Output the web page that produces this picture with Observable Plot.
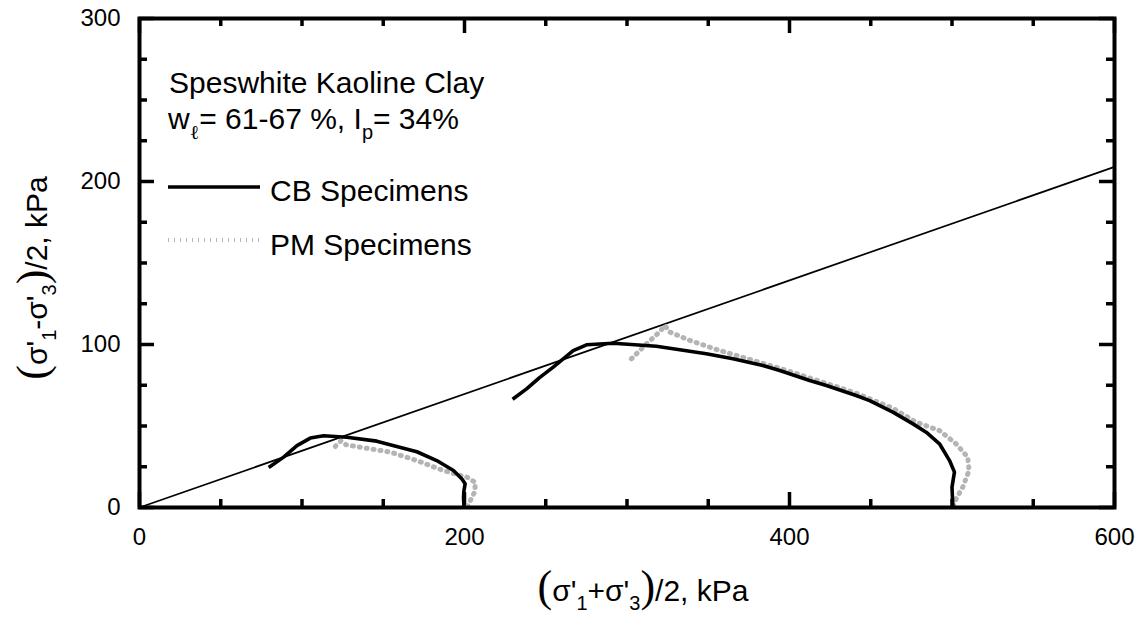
<!DOCTYPE html>
<html>
<head>
<meta charset="utf-8">
<script src="https://cdn.jsdelivr.net/npm/d3@7"></script>
<script src="https://cdn.jsdelivr.net/npm/@observablehq/plot@0.6"></script>
<style>
  html, body { margin: 0; padding: 0; background: #fff; }
  #chart svg { display: block; }
</style>
</head>
<body>
<div id="chart"></div>
<script>
// Axis ticks (kPa)
const xTicksMajor = [0, 200, 400, 600];
const xTicksMinor = [50, 100, 150, 250, 300, 350, 450, 500, 550];
const yTicksMajor = [0, 100, 200, 300];
const yTicksMinor = [25, 50, 75, 125, 150, 175, 225, 250, 275];

// Failure envelope through the origin
const envelopeP = [0, 600];
const envelopeQ = [0, 209];

// CB specimens, low confining stress
const cbLowP = [79.5, 88.7, 96.9, 105.1, 113.3, 127.6, 146, 158.3, 170.7, 182.9, 193.2, 198.3, 200.4, 199.6, 199.4, 199.7];
const cbLowQ = [24.5, 30.9, 38, 42.6, 44, 43.1, 40.7, 37.4, 34.2, 28.8, 22.7, 17.6, 14.5, 10, 6, 0];

// CB specimens, high confining stress
const cbHighP = [229.6, 238.2, 246, 254.6, 266.9, 275.1, 291.5, 318.1, 348.8, 365.2, 383.6, 394, 412.4, 422.7, 441, 449.3, 463.6, 476, 484.1, 492.3, 498.5, 501.5, 500, 500.4, 500.6];
const cbHighQ = [66.4, 72.8, 79.5, 86.1, 96.3, 99.8, 100.8, 98.9, 94.3, 91.2, 87.1, 84, 77.9, 74.8, 68.7, 65.6, 58.5, 51.3, 46.2, 39.1, 28.8, 21.7, 12.5, 3.3, 0];

// PM specimens, low confining stress
const pmLowP = [120.5, 124, 127, 135.8, 154.3, 170.7, 187, 201.4, 206.5, 206.5, 204, 202];
const pmLowQ = [37.5, 41, 38.5, 37, 34, 28.8, 22.7, 18.6, 15.5, 10, 5, 1];

// PM specimens, high confining stress
const pmHighP = [302.7, 311.9, 320, 323.3, 326.4, 338.7, 357.1, 381.6, 400, 420, 440, 463.6, 478, 492.3, 502.5, 509.7, 510.5, 506.6, 502.5, 501];
const pmHighQ = [91.2, 100.4, 107.6, 111.7, 107.6, 102.5, 96.3, 89.1, 83.5, 77, 70.5, 60.9, 52.3, 47.2, 39.1, 30.9, 22.7, 12.5, 5.3, 1];

const rows = (p, q) => p.map((v, i) => ({p: v, q: q[i]}));

const W = 1138, H = 617;
const marginLeft = 139, marginRight = 24, marginTop = 18, marginBottom = 110;
const fw = W - marginLeft - marginRight;
const fh = H - marginTop - marginBottom;
const majorLen = 15, minorLen = 8;

const sans = "'Liberation Sans', Arial, Helvetica, sans-serif";
const serif = "'Liberation Serif', 'Times New Roman', serif";

// PM traces: light grey hatch-like dotted stroke
const pmStyle = {stroke: "#b4b4b4", strokeWidth: 5, strokeDasharray: "1 6"};
const cbStyle = {stroke: "#000", strokeWidth: 3.6, strokeLinejoin: "round", strokeLinecap: "butt"};

const chart = Plot.plot({
  width: W,
  height: H,
  marginLeft, marginRight, marginTop, marginBottom,
  x: {domain: [0, 600]},
  y: {domain: [0, 300]},
  style: {fontFamily: sans, fontSize: "24px", color: "#000", background: "#fff"},
  marks: [
    Plot.axisX({ticks: xTicksMajor, tickSize: 0, tickPadding: 20, fontSize: 24, label: null}),
    Plot.axisY({ticks: yTicksMajor, tickSize: 0, tickPadding: 19, fontSize: 24, label: null}),

    // inward ticks on all four sides of the frame
    Plot.ruleX(xTicksMajor, {x: d => d, insetTop: fh - majorLen, strokeWidth: 3.5}),
    Plot.ruleX(xTicksMajor, {x: d => d, insetBottom: fh - majorLen, strokeWidth: 3.5}),
    Plot.ruleX(xTicksMinor, {x: d => d, insetTop: fh - minorLen, strokeWidth: 3.5}),
    Plot.ruleX(xTicksMinor, {x: d => d, insetBottom: fh - minorLen, strokeWidth: 3.5}),
    Plot.ruleY(yTicksMajor, {y: d => d, insetRight: fw - majorLen, strokeWidth: 3.5}),
    Plot.ruleY(yTicksMajor, {y: d => d, insetLeft: fw - majorLen, strokeWidth: 3.5}),
    Plot.ruleY(yTicksMinor, {y: d => d, insetRight: fw - minorLen, strokeWidth: 3.5}),
    Plot.ruleY(yTicksMinor, {y: d => d, insetLeft: fw - minorLen, strokeWidth: 3.5}),

    Plot.line(rows(envelopeP, envelopeQ), {x: "p", y: "q", stroke: "#000", strokeWidth: 1.7}),

    Plot.line(rows(pmLowP, pmLowQ), {x: "p", y: "q", ...pmStyle}),
    Plot.line(rows(pmHighP, pmHighQ), {x: "p", y: "q", ...pmStyle}),
    Plot.line(rows(cbLowP, cbLowQ), {x: "p", y: "q", ...cbStyle}),
    Plot.line(rows(cbHighP, cbHighQ), {x: "p", y: "q", ...cbStyle}),

    Plot.frame({stroke: "#000", strokeWidth: 4})
  ]
});

document.getElementById("chart").appendChild(chart);

// Rich text with sub/superscripts: parts are [text, size, family, baselineOffset]
function richText(parent, x, y, parts, opts = {}) {
  const t = parent.append("text")
    .attr("x", x).attr("y", y)
    .attr("fill", "#000")
    .attr("font-family", sans)
    .attr("text-anchor", opts.anchor || "start");
  if (opts.transform) t.attr("transform", opts.transform).attr("x", 0).attr("y", 0);
  let prev = 0;
  for (const [str, size, family, shift = 0] of parts) {
    t.append("tspan")
      .attr("font-size", size)
      .attr("font-family", family || sans)
      .attr("dy", shift - prev)
      .text(str);
    prev = shift;
  }
  return t;
}

const svg = d3.select(chart);
const g = svg.append("g");

// axis titles
const tSize = 30, sSize = 20, pSize = 44;
richText(g, 0, 0, [
  ["(", pSize, serif, 0],
  ["σ'", tSize, sans, 0],
  ["1", sSize, sans, 9],
  ["-σ'", tSize, sans, 0],
  ["3", sSize, sans, 9],
  [")", pSize, serif, 0],
  ["/2, kPa", tSize, sans, 0]
], {anchor: "middle", transform: "translate(47,278) rotate(-90)"});

richText(g, 643, 601, [
  ["(", pSize, serif, 0],
  ["σ'", tSize, sans, 0],
  ["1", sSize, sans, 9],
  ["+σ'", tSize, sans, 0],
  ["3", sSize, sans, 9],
  [")", pSize, serif, 0],
  ["/2, kPa", tSize, sans, 0]
], {anchor: "middle"});

// legend block
const lSize = 30;
richText(g, 169, 93, [["Speswhite Kaoline Clay", lSize, sans, 0]]);
richText(g, 168, 129, [
  ["w", lSize, sans, 0],
  ["ℓ", sSize, serif, 10],
  ["= 61-67 %, I", lSize, sans, 0],
  ["p", sSize, sans, 10],
  ["= 34%", lSize, sans, 0]
]);

g.append("line").attr("x1", 168).attr("x2", 260).attr("y1", 187).attr("y2", 187)
  .attr("stroke", "#000").attr("stroke-width", 3.6);
richText(g, 270, 201, [["CB Specimens", lSize, sans, 0]]);

g.append("line").attr("x1", 168).attr("x2", 260).attr("y1", 240).attr("y2", 240)
  .attr("stroke", pmStyle.stroke).attr("stroke-width", 4)
  .attr("stroke-dasharray", "1 5");
richText(g, 270, 255, [["PM Specimens", lSize, sans, 0]]);
</script>
</body>
</html>
